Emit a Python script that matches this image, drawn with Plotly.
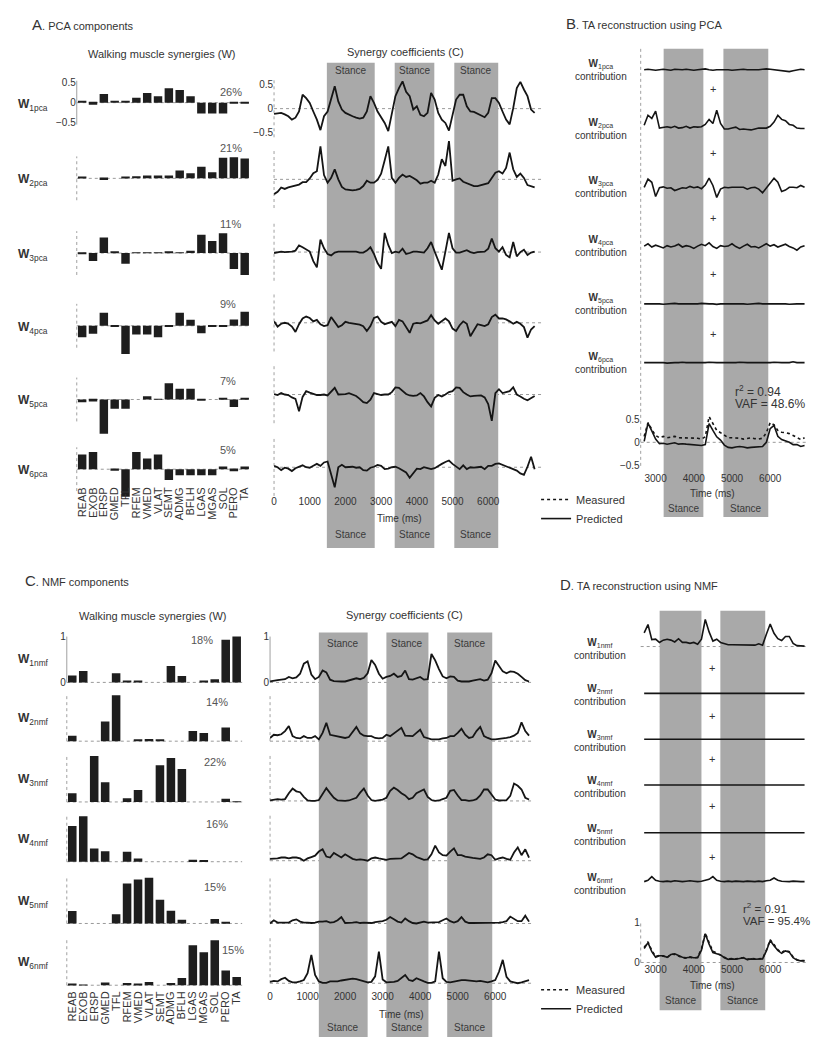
import plotly.graph_objects as go

# ---------------- data ----------------
MUSCLES = ["REAB", "EXOB", "ERSP", "GMED", "TFL", "RFEM", "VMED", "VLAT",
           "SEMT", "ADMG", "BFLH", "LGAS", "MGAS", "SOL", "PERO", "TA"]

PCA_W1 = [0.05, -0.05, 0.22, 0.04, 0.03, 0.12, 0.24, 0.16, 0.36, 0.32, 0.16, -0.27, -0.27, -0.27, -0.03, -0.03]
PCA_W2 = [0.04, 0.0, -0.04, 0.0, 0.03, 0.05, 0.07, 0.07, 0.07, 0.2, 0.13, 0.29, 0.15, 0.52, 0.53, 0.5]
PCA_W3 = [-0.03, -0.2, 0.39, 0.04, -0.27, 0.01, 0.01, 0.01, 0.04, 0.01, 0.06, 0.46, 0.3, 0.5, -0.4, -0.55]
PCA_W4 = [-0.29, -0.2, 0.33, -0.03, -0.71, -0.22, -0.22, -0.29, -0.03, 0.33, 0.15, -0.19, -0.02, -0.02, 0.16, 0.35]
PCA_W5 = [-0.07, -0.05, -0.86, -0.23, -0.23, 0.0, 0.08, 0.02, 0.41, 0.27, 0.27, -0.03, 0.0, 0.03, -0.19, 0.03]
PCA_W6 = [0.37, 0.43, 0.0, -0.04, -0.69, 0.43, 0.27, 0.37, -0.27, -0.15, -0.15, -0.15, -0.15, 0.07, -0.05, 0.07]
PCA_PCT = ["26%", "21%", "11%", "9%", "7%", "5%"]

NMF_W1 = [0.15, 0.25, 0.0, 0.0, 0.2, 0.03, 0.02, 0.0, 0.0, 0.36, 0.14, 0.0, 0.03, 0.07, 0.93, 1.0]
NMF_W2 = [0.12, 0.0, 0.0, 0.43, 1.0, 0.0, 0.02, 0.05, 0.02, 0.0, 0.0, 0.22, 0.18, 0.0, 0.3, 0.0]
NMF_W3 = [0.19, 0.0, 1.0, 0.43, 0.0, 0.08, 0.26, 0.0, 0.8, 0.96, 0.72, 0.0, 0.0, 0.0, 0.07, 0.01]
NMF_W4 = [0.78, 0.99, 0.29, 0.23, 0.0, 0.22, 0.07, 0.0, 0.0, 0.0, 0.0, 0.04, 0.02, 0.0, 0.0, 0.0]
NMF_W5 = [0.27, 0.0, 0.0, 0.0, 0.2, 0.87, 0.96, 1.0, 0.52, 0.28, 0.08, 0.0, 0.0, 0.1, 0.02, 0.0]
NMF_W6 = [0.03, 0.01, 0.0, 0.06, 0.0, 0.05, 0.02, 0.07, 0.0, 0.05, 0.16, 0.87, 0.72, 0.98, 0.32, 0.18]
NMF_PCT = ["18%", "14%", "22%", "16%", "15%", "15%"]

# time stamps (ms) of the sampled coefficient curves
T_A = list(range(0, 7400, 100))      # panel A
T_C = list(range(0, 7000, 100))      # panel C
T_R = list(range(2700, 7000, 100))   # panels B and D
T_FLAT = [2700, 3800, 4800, 5900, 6900]

PCA_C1 = [-0.11, -0.10, -0.09, -0.12, -0.16, -0.23, -0.19, -0.06, 0.29, 0.22,
          0.12, -0.06, -0.23, -0.45, -0.16, -0.06, 0.22, 0.47, 0.15, -0.02,
          -0.09, -0.13, -0.16, -0.19, -0.21, -0.19, -0.06, 0.26, 0.12, -0.06,
          -0.18, -0.30, -0.47, -0.10, 0.26, 0.43, 0.57, 0.35, 0.26, -0.02,
          0.05, -0.13, -0.16, -0.09, 0.33, 0.19, -0.09, -0.23, -0.30, -0.46,
          -0.16, 0.19, 0.29, 0.29, 0.05, -0.06, -0.07, -0.11, -0.14, -0.18,
          -0.09, 0.22, 0.22, 0.12, -0.06, -0.23, -0.33, 0.01, 0.43, 0.56,
          0.40, 0.26, -0.02, -0.09]
PCA_C2 = [-0.31, -0.26, -0.17, -0.20, -0.17, -0.15, -0.14, -0.11, -0.06, -0.06,
          0.02, 0.13, 0.17, 0.69, 0.09, -0.07, 0.03, 0.21, 0.00, -0.16,
          -0.21, -0.22, -0.23, -0.22, -0.20, -0.14, -0.03, -0.07, -0.07, -0.01,
          0.12, 0.40, 0.69, 0.03, -0.07, 0.03, 0.10, 0.05, 0.07, 0.03,
          -0.02, -0.09, -0.07, -0.07, -0.03, -0.07, 0.10, 0.42, 0.28, 0.80,
          -0.03, 0.00, 0.02, -0.05, -0.08, -0.12, -0.14, -0.14, -0.12, -0.10,
          -0.08, 0.03, 0.14, 0.17, 0.12, 0.24, 0.56, 0.21, 0.05, 0.12,
          0.03, -0.12, -0.15, -0.17]
PCA_C3 = [-0.02, 0.00, 0.01, 0.00, 0.00, 0.01, 0.03, 0.14, 0.10, 0.06,
          0.01, -0.19, -0.32, 0.26, 0.08, -0.04, -0.07, -0.01, 0.01, 0.01,
          0.01, 0.00, 0.00, 0.01, -0.01, -0.01, 0.03, 0.10, -0.04, -0.23,
          -0.35, 0.40, 0.15, -0.02, 0.01, -0.01, 0.07, -0.04, -0.02, 0.01,
          0.01, 0.00, -0.01, 0.08, 0.21, 0.01, -0.19, -0.37, 0.01, 0.40,
          0.08, -0.01, -0.01, 0.01, 0.04, 0.00, -0.02, 0.00, 0.01, 0.01,
          0.07, 0.28, 0.08, 0.01, 0.10, -0.06, -0.11, 0.21, -0.09, 0.00,
          0.05, -0.06, -0.01, 0.01]
PCA_C4 = [0.03, -0.08, -0.02, 0.00, -0.02, -0.08, -0.19, -0.03, 0.09, 0.13,
          0.10, 0.03, 0.06, -0.03, -0.07, -0.05, 0.12, 0.02, -0.09, -0.05,
          0.02, 0.00, -0.01, -0.02, -0.04, -0.07, -0.17, -0.07, 0.10, 0.13,
          0.02, -0.03, 0.00, 0.02, -0.07, 0.06, 0.03, -0.10, -0.21, -0.02,
          0.00, -0.01, 0.02, 0.05, 0.16, 0.05, -0.02, 0.03, 0.09, 0.03,
          -0.12, -0.17, -0.05, 0.03, -0.02, -0.28, -0.14, -0.03, -0.05, -0.07,
          -0.03, 0.12, 0.17, 0.09, 0.09, 0.07, 0.03, -0.02, 0.02, -0.02,
          -0.09, -0.31, -0.14, -0.07]
PCA_C5 = [0.01, -0.01, 0.03, 0.00, -0.01, -0.06, -0.09, -0.35, -0.05, 0.07,
          0.04, 0.01, -0.01, -0.01, 0.00, -0.02, 0.05, 0.14, 0.00, 0.00,
          0.01, 0.03, 0.00, -0.03, -0.09, -0.16, -0.18, -0.11, 0.03, 0.01,
          -0.01, 0.00, 0.00, 0.05, 0.15, 0.14, 0.07, 0.01, -0.02, -0.03,
          -0.02, 0.03, -0.04, -0.16, -0.25, -0.07, -0.01, -0.04, 0.00, 0.05,
          0.07, 0.15, 0.14, 0.05, 0.00, -0.04, -0.03, -0.02, -0.02, -0.06,
          -0.20, -0.55, 0.03, 0.11, 0.03, 0.05, 0.07, 0.15, 0.00, -0.04,
          -0.09, -0.12, -0.07, -0.03]
PCA_C6 = [0.03, 0.00, -0.06, -0.01, -0.03, -0.08, -0.02, 0.01, 0.04, 0.00,
          -0.01, 0.03, 0.07, 0.03, 0.10, 0.12, -0.15, -0.42, 0.00, 0.05,
          0.00, 0.01, 0.01, -0.01, 0.00, -0.06, -0.07, -0.01, 0.01, 0.05,
          0.03, -0.04, -0.03, 0.00, 0.01, -0.02, -0.06, -0.11, -0.22, -0.12,
          -0.03, -0.04, 0.00, -0.02, -0.04, -0.02, 0.03, 0.07, 0.11, 0.14,
          0.07, 0.01, -0.04, 0.04, -0.04, 0.00, -0.01, 0.00, 0.01, -0.04,
          0.03, 0.03, 0.07, 0.08, 0.05, 0.01, -0.01, -0.04, -0.07, -0.13,
          -0.16, 0.01, 0.22, -0.04]

NMF_C1 = [0.02, 0.04, 0.05, 0.06, 0.07, 0.12, 0.09, 0.11, 0.19, 0.41,
          0.46, 0.17, 0.07, 0.12, 0.26, 0.22, 0.06, 0.03, 0.02, 0.02,
          0.02, 0.04, 0.07, 0.09, 0.07, 0.10, 0.20, 0.49, 0.38, 0.19,
          0.08, 0.12, 0.14, 0.19, 0.12, 0.14, 0.26, 0.07, 0.06, 0.09,
          0.12, 0.06, 0.07, 0.62, 0.48, 0.29, 0.13, 0.09, 0.13, 0.12,
          0.04, 0.02, 0.02, 0.02, 0.04, 0.06, 0.07, 0.04, 0.06, 0.20,
          0.48, 0.36, 0.24, 0.20, 0.24, 0.23, 0.19, 0.12, 0.05, 0.02]
NMF_C2 = [0.07, 0.14, 0.13, 0.15, 0.22, 0.33, 0.11, 0.07, 0.06, 0.11,
          0.07, 0.07, 0.11, 0.04, 0.18, 0.40, 0.14, 0.12, 0.11, 0.09,
          0.07, 0.09, 0.20, 0.31, 0.17, 0.12, 0.11, 0.11, 0.07, 0.06,
          0.07, 0.14, 0.11, 0.17, 0.25, 0.29, 0.12, 0.11, 0.11, 0.18,
          0.25, 0.09, 0.06, 0.04, 0.04, 0.04, 0.06, 0.07, 0.11, 0.11,
          0.18, 0.27, 0.14, 0.07, 0.09, 0.22, 0.31, 0.11, 0.07, 0.04,
          0.04, 0.05, 0.05, 0.07, 0.09, 0.12, 0.18, 0.41, 0.22, 0.12]
NMF_C3 = [0.01, 0.02, 0.04, 0.03, 0.04, 0.17, 0.27, 0.21, 0.19, 0.09,
          0.01, 0.00, 0.00, 0.02, 0.14, 0.28, 0.17, 0.07, 0.01, 0.00,
          0.00, 0.01, 0.04, 0.07, 0.18, 0.27, 0.12, 0.02, 0.00, 0.01,
          0.03, 0.07, 0.22, 0.29, 0.24, 0.17, 0.12, 0.04, 0.07, 0.17,
          0.21, 0.25, 0.09, 0.02, 0.00, 0.01, 0.04, 0.07, 0.22, 0.24,
          0.12, 0.02, 0.02, 0.00, 0.01, 0.04, 0.12, 0.25, 0.25, 0.14,
          0.03, 0.01, 0.01, 0.02, 0.11, 0.38, 0.33, 0.25, 0.07, 0.03]
NMF_C4 = [0.04, 0.04, 0.05, 0.07, 0.07, 0.05, 0.07, 0.07, 0.05, 0.00,
          0.05, 0.08, 0.11, 0.20, 0.25, 0.09, 0.07, 0.17, 0.11, 0.07,
          0.14, 0.09, 0.04, 0.02, 0.03, 0.02, 0.00, 0.05, 0.07, 0.05,
          0.03, 0.02, 0.04, 0.04, 0.05, 0.05, 0.11, 0.17, 0.14, 0.08,
          0.05, 0.02, 0.03, 0.14, 0.33, 0.18, 0.12, 0.11, 0.20, 0.27,
          0.12, 0.12, 0.09, 0.07, 0.06, 0.05, 0.04, 0.07, 0.14, 0.12,
          0.02, 0.05, 0.07, 0.04, 0.02, 0.18, 0.29, 0.12, 0.25, 0.07]
NMF_C5 = [0.00, 0.07, 0.02, 0.02, 0.03, 0.02, 0.07, 0.09, 0.04, 0.02,
          0.02, 0.01, 0.02, 0.04, 0.04, 0.05, 0.02, 0.03, 0.07, 0.14,
          0.01, 0.01, 0.02, 0.03, 0.01, 0.02, 0.01, 0.01, 0.03, 0.04,
          0.05, 0.08, 0.14, 0.09, 0.04, 0.02, 0.11, 0.05, 0.01, 0.00,
          0.02, 0.04, 0.02, 0.02, 0.02, 0.03, 0.07, 0.11, 0.05, 0.02,
          0.05, 0.14, 0.04, 0.01, 0.01, 0.01, 0.01, 0.01, 0.02, 0.02,
          0.02, 0.02, 0.03, 0.05, 0.15, 0.09, 0.05, 0.05, 0.17, 0.04]
NMF_C6 = [0.03, 0.05, 0.04, 0.09, 0.12, 0.05, 0.02, 0.02, 0.04, 0.07,
          0.22, 0.62, 0.18, 0.04, 0.01, 0.01, 0.04, 0.04, 0.04, 0.06,
          0.07, 0.09, 0.10, 0.09, 0.07, 0.04, 0.02, 0.03, 0.15, 0.69,
          0.08, 0.02, 0.02, 0.03, 0.05, 0.11, 0.18, 0.07, 0.05, 0.11,
          0.07, 0.04, 0.01, 0.01, 0.04, 0.69, 0.11, 0.03, 0.02, 0.04,
          0.05, 0.07, 0.07, 0.06, 0.05, 0.04, 0.05, 0.04, 0.02, 0.04,
          0.07, 0.25, 0.51, 0.14, 0.04, 0.02, 0.00, 0.02, 0.04, 0.07]

# B: TA reconstruction using PCA (contributions, measured, predicted)
B_C1 = [0.0, 0.01, 0.0, -0.01, 0.0, 0.01, 0.0, -0.01, 0.01, 0.0,
        0.0, 0.01, 0.0, -0.01, 0.0, 0.01, 0.02, 0.0, -0.01, 0.0,
        0.0, 0.01, 0.0, -0.01, 0.0, 0.0, 0.01, 0.0, 0.0, -0.01,
        0.0, 0.01, 0.02, 0.01, 0.0, 0.0, -0.01, -0.03, -0.04, -0.02,
        0.0, 0.01, 0.0]
B_C2 = [0.07, 0.29, 0.22, 0.38, 0.01, 0.02, 0.04, 0.02, 0.05, 0.01,
        0.02, 0.05, 0.01, 0.04, 0.03, 0.04, 0.09, 0.20, 0.11, 0.40,
        0.11, -0.01, -0.01, 0.01, 0.03, -0.02, -0.01, -0.02, -0.03, -0.01,
        0.01, 0.01, 0.01, 0.05, 0.14, 0.29, 0.20, 0.17, 0.09, 0.07,
        0.01, 0.0, 0.0]
B_C3 = [0.0, 0.18, 0.11, -0.20, -0.01, 0.01, -0.02, -0.01, -0.07, -0.04,
        -0.01, -0.02, 0.02, -0.01, 0.01, -0.03, 0.05, 0.20, 0.04, -0.22,
        -0.04, 0.0, -0.01, 0.0, 0.0, 0.01, 0.0, -0.04, -0.01, 0.0,
        -0.04, -0.12, -0.01, 0.10, 0.20, 0.11, -0.09, -0.06, 0.0, 0.0,
        -0.01, 0.04, 0.0]
B_C4 = [0.0, 0.05, -0.02, 0.02, -0.01, -0.04, 0.01, -0.02, 0.0, 0.04,
        -0.02, 0.01, -0.01, -0.05, 0.0, 0.04, 0.01, 0.07, -0.01, -0.05,
        0.01, -0.01, 0.0, 0.05, -0.01, -0.05, 0.0, 0.04, -0.02, -0.01,
        -0.04, 0.01, 0.05, 0.0, 0.03, -0.02, 0.01, 0.04, -0.01, -0.04,
        -0.09, -0.02, 0.01]
B_C5 = [0.0, 0.0, 0.01, 0.0, 0.0, -0.01, 0.0, 0.0, 0.01, 0.0,
        0.0, 0.0, -0.01, 0.0, 0.0, 0.01, 0.0, 0.0, 0.0, -0.01,
        0.0, 0.0, 0.01, 0.0, 0.0, 0.0, 0.0, -0.01, 0.0, 0.0,
        0.01, 0.0, 0.0, 0.0, 0.0, 0.01, 0.0, 0.0, -0.01, 0.0,
        0.0, 0.0, 0.0]
B_C6 = [0.0, 0.0, 0.0, 0.01, 0.0, 0.0, -0.01, 0.0, 0.0, 0.0,
        0.01, 0.0, 0.0, 0.0, -0.01, 0.0, 0.0, 0.01, 0.0, 0.0,
        0.0, 0.0, -0.01, 0.0, 0.0, 0.01, 0.0, 0.0, 0.0, 0.0,
        -0.01, 0.0, 0.0, 0.0, 0.01, 0.0, 0.0, 0.0, 0.0, 0.02,
        0.0, 0.0, 0.0]
B_MEAS = [0.13, 0.43, 0.28, 0.15, 0.10, 0.13, 0.10, 0.12, 0.13, 0.10,
          0.10, 0.10, 0.10, 0.10, 0.09, 0.07, 0.12, 0.56, 0.41, 0.26,
          0.21, 0.15, 0.10, 0.10, 0.10, 0.09, 0.07, 0.08, 0.10, 0.08,
          0.07, 0.09, 0.21, 0.43, 0.38, 0.26, 0.22, 0.21, 0.19, 0.15,
          0.10, 0.06, 0.10]
B_PRED = [0.02, 0.42, 0.25, 0.07, -0.03, -0.02, -0.04, -0.03, -0.01, -0.04,
          -0.03, -0.04, -0.05, -0.05, -0.07, -0.07, -0.05, 0.41, 0.26, 0.12,
          0.05, -0.06, -0.11, -0.12, -0.10, -0.09, -0.10, -0.12, -0.11, -0.10,
          -0.09, -0.09, 0.00, 0.30, 0.37, 0.13, 0.06, 0.03, 0.00, -0.05,
          -0.05, -0.09, -0.07]

# D: TA reconstruction using NMF
D_C1 = [0.30, 0.48, 0.15, 0.16, 0.09, 0.14, 0.16, 0.14, 0.10, 0.17,
        0.09, 0.09, 0.07, 0.09, 0.05, 0.16, 0.59, 0.32, 0.12, 0.16,
        0.09, 0.07, 0.04, 0.04, 0.04, 0.03, 0.04, 0.04, 0.03, 0.03,
        0.06, 0.03, 0.27, 0.49, 0.29, 0.17, 0.13, 0.22, 0.22, 0.07,
        0.02, 0.01, 0.01]
D_C2 = [0.0, 0.0, 0.0, 0.0, 0.0]
D_C3 = [0.0, 0.0, 0.0, 0.0, 0.0]
D_C4 = [0.0, 0.0, 0.0, 0.0, 0.0]
D_C5 = [0.0, 0.0, 0.0, 0.0, 0.0]
D_C6 = [0.0, 0.03, 0.11, 0.03, 0.01, 0.0, 0.01, 0.0, 0.02, 0.01,
        0.0, 0.01, 0.02, 0.01, 0.0, 0.01, 0.03, 0.05, 0.11, 0.03,
        0.01, 0.0, 0.01, 0.0, 0.01, 0.0, 0.0, 0.01, 0.0, 0.0,
        0.01, 0.0, 0.02, 0.03, 0.08, 0.03, 0.01, 0.0, 0.0, 0.01,
        0.0, 0.0, 0.0]
D_MEAS = [0.38, 0.52, 0.30, 0.15, 0.18, 0.16, 0.12, 0.21, 0.20, 0.15,
          0.12, 0.11, 0.14, 0.11, 0.13, 0.34, 0.74, 0.50, 0.28, 0.24,
          0.18, 0.13, 0.09, 0.10, 0.09, 0.11, 0.12, 0.08, 0.10, 0.09,
          0.09, 0.10, 0.31, 0.57, 0.45, 0.32, 0.25, 0.31, 0.27, 0.14,
          0.07, 0.05, 0.05]
D_PRED = [0.35, 0.50, 0.27, 0.13, 0.17, 0.17, 0.13, 0.20, 0.22, 0.17,
          0.13, 0.12, 0.13, 0.12, 0.12, 0.31, 0.72, 0.46, 0.25, 0.22,
          0.19, 0.12, 0.08, 0.09, 0.08, 0.10, 0.12, 0.07, 0.09, 0.08,
          0.08, 0.09, 0.29, 0.55, 0.42, 0.30, 0.23, 0.29, 0.26, 0.12,
          0.06, 0.04, 0.04]

STANCE_A = [(1480, 2820), (3380, 4490), (5050, 6280)]
STANCE_C = [(1300, 2600), (3100, 4220), (4720, 5920)]
STANCE_B = [(3210, 4250), (4775, 5950)]
STANCE_D = [(3105, 4200), (4695, 5870)]
TICKS_AC = [0, 1000, 2000, 3000, 4000, 5000, 6000]
TICKS_BD = [3000, 4000, 5000, 6000]

# ---------------- layout helpers ----------------
FIG_W, FIG_H = 821, 1039
OFF = 8          # page body margin of the browser, compensated here
FONT = "Liberation Sans, Arial, Helvetica, sans-serif"
TXT = "#333333"
INK = "#151515"
BAND = "#a9a9a9"
DOT = "#9a9a9a"


def X(p):
    return (p - OFF) / FIG_W


def Y(p):
    return 1 - (p - OFF) / FIG_H


fig = go.Figure()
lay = {}
shapes = []
ann = []
_n = [0]


def axes(x0, x1, ytop, ybot, xr, yr, cat=False):
    _n[0] += 1
    s = "" if _n[0] == 1 else str(_n[0])
    xa = dict(domain=[X(x0), X(x1)], range=xr, anchor="y" + s, showgrid=False,
              zeroline=False, showline=False, ticks="", showticklabels=False,
              fixedrange=True, tickfont=dict(family=FONT, size=10, color=TXT))
    if cat:
        xa["type"] = "category"
    lay["xaxis" + s] = xa
    lay["yaxis" + s] = dict(domain=[Y(ybot), Y(ytop)], range=yr, anchor="x" + s,
                            showgrid=False, zeroline=False, showline=False, ticks="",
                            showticklabels=False, fixedrange=True,
                            tickfont=dict(family=FONT, size=10, color=TXT))
    return s


def text(x, y, t, size=10, xanchor="center", color=TXT, align="center", xref="paper"):
    ann.append(dict(x=X(x) if xref == "paper" else x, y=Y(y), xref=xref, yref="paper",
                    text=t, showarrow=False, xanchor=xanchor, yanchor="middle", align=align,
                    font=dict(family=FONT, size=size, color=color)))


def hline0(s, color=DOT):
    shapes.append(dict(type="line", xref="x" + s + " domain", x0=0, x1=1, yref="y" + s,
                       y0=0, y1=0, line=dict(color=color, width=1, dash="dot"), layer="below"))


def vaxis(s, y0, y1, dash="dot"):
    shapes.append(dict(type="line", xref="x" + s + " domain", x0=0, x1=0, yref="y" + s,
                       y0=y0, y1=y1, line=dict(color="#a0a0a0", width=1, dash=dash), layer="below"))


def curve(s, t, v, width=1.8, dash="solid", name=None, legend=None):
    fig.add_trace(go.Scatter(x=t, y=v, xaxis="x" + s, yaxis="y" + s, mode="lines",
                             line=dict(color=INK, width=width, dash=dash),
                             showlegend=name is not None, name=name,
                             legend=legend if legend else "legend", hoverinfo="skip"))


def bars(s, v):
    fig.add_trace(go.Bar(x=MUSCLES, y=v, xaxis="x" + s, yaxis="y" + s, width=0.78,
                         marker=dict(color="#1e1e1e", line=dict(width=0)),
                         showlegend=False, hoverinfo="skip"))


tickfont = dict(family=FONT, size=10, color=TXT)
musclefont = dict(family=FONT, size=11, color=TXT)


def bands(s, spans, ytop, ybot, lab_top=None, lab_bot=None):
    for a, e in spans:
        shapes.append(dict(type="rect", xref="x" + s, yref="paper", x0=a, x1=e,
                           y0=Y(ybot), y1=Y(ytop), fillcolor=BAND, line=dict(width=0),
                           layer="below"))
        for ly in (lab_top, lab_bot):
            if ly is not None:
                text((a + e) / 2, ly, "Stance", size=10, color="#3a3a3a", xref="x" + s)


# ---------------- panel A ----------------
text(27, 23, '<span style="font-size:15px">A</span>. PCA components', size=11, xanchor="left")
text(160, 52, "Walking muscle synergies (W)", size=11)
text(404, 50, "Synergy coefficients (C)", size=11)

PCA_W = [PCA_W1, PCA_W2, PCA_W3, PCA_W4, PCA_W5, PCA_W6]
A_BAR_BASE = [101, 177, 252, 325, 399, 469]
A_PCT_Y = [90, 147, 223, 303, 380, 450]
for i, w in enumerate(PCA_W):
    b = A_BAR_BASE[i]
    s = axes(74, 248, b - 40, b + 40, [-0.5, 15.5], [-1, 1], cat=True)
    hline0(s)
    vaxis(s, -0.55, 0.55, dash="solid" if i == 0 else "dot")
    bars(s, w)
    if i == 0:
        lay["yaxis" + s].update(showticklabels=True, tickvals=[-0.5, 0, 0.5],
                                ticktext=["\u22120.5", "0", "0.5"], tickfont=tickfont)
    if i == 5:
        lay["xaxis" + s].update(anchor="free", position=Y(484), showticklabels=True,
                                tickmode="array", tickvals=MUSCLES, ticktext=MUSCLES,
                                tickangle=-90, tickfont=musclefont)
    text(13, b + 2, "<b>W</b><sub>%dpca</sub>" % (i + 1), size=12, xanchor="left")
    text(216, A_PCT_Y[i], PCA_PCT[i], size=11, xanchor="left", color="#555555")

PCA_C = [PCA_C1, PCA_C2, PCA_C3, PCA_C4, PCA_C5, PCA_C6]
A_TS_BASE = [107, 178, 251, 322, 394, 467]
sA = None
for i, c in enumerate(PCA_C):
    b = A_TS_BASE[i]
    s = axes(272, 540, b - 42, b + 42, [0, 7480], [-0.875, 0.875])
    if sA is None:
        sA = s
    hline0(s)
    vaxis(s, -0.6, 0.6)
    curve(s, T_A, c)
    if i == 0:
        lay["yaxis" + s].update(showticklabels=True, tickvals=[-0.5, 0, 0.5],
                                ticktext=["\u22120.5", "0", "0.5"], tickfont=tickfont)
    if i == 5:
        lay["xaxis" + s].update(anchor="free", position=Y(494), showticklabels=True,
                                tickvals=TICKS_AC, tickfont=tickfont)
bands(sA, STANCE_A, 61, 548, lab_top=69, lab_bot=535)
text(398, 518, "Time (ms)", size=10)

# ---------------- panel C ----------------
text(20, 581, '<span style="font-size:15px">C</span>. NMF components', size=11, xanchor="left")
text(151, 616, "Walking muscle synergies (W)", size=11)
text(403, 615, "Synergy coefficients (C)", size=11)

NMF_W = [NMF_W1, NMF_W2, NMF_W3, NMF_W4, NMF_W5, NMF_W6]
C_BAR_BASE = [683, 742, 803, 863, 925, 987]
C_PCT_Y = [640, 703, 763, 825, 888, 952]
C_PCT_X = [187, 202, 200, 202, 200, 218]
for i, w in enumerate(NMF_W):
    b = C_BAR_BASE[i]
    s = axes(64, 240, b - 50, b + 4, [-0.5, 15.5], [-4 / 46, 50 / 46], cat=True)
    hline0(s)
    vaxis(s, 0, 1.0, dash="solid" if i == 0 else "dot")
    bars(s, w)
    if i == 0:
        lay["yaxis" + s].update(showticklabels=True, tickvals=[0, 1], ticktext=["0", "1"],
                                tickfont=tickfont)
    if i == 5:
        lay["xaxis" + s].update(anchor="free", position=Y(990), showticklabels=True,
                                tickmode="array", tickvals=MUSCLES, ticktext=MUSCLES,
                                tickangle=-90, tickfont=musclefont)
    text(13, b - 22, "<b>W</b><sub>%dnmf</sub>" % (i + 1), size=12, xanchor="left")
    text(C_PCT_X[i], C_PCT_Y[i], NMF_PCT[i], size=11, xanchor="left", color="#555555")

NMF_C = [NMF_C1, NMF_C2, NMF_C3, NMF_C4, NMF_C5, NMF_C6]
C_TS_BASE = [683, 742, 802, 862, 925, 985]
sC = None
for i, c in enumerate(NMF_C):
    b = C_TS_BASE[i]
    s = axes(268, 532, b - 50, b + 12, [0, 7008], [-12 / 46, 50 / 46])
    if sC is None:
        sC = s
    hline0(s)
    vaxis(s, 0, 1.0, dash="solid" if i == 0 else "dot")
    curve(s, T_C, c)
    if i == 0:
        lay["yaxis" + s].update(showticklabels=True, tickvals=[0, 1], ticktext=["0", "1"],
                                tickfont=tickfont)
    if i == 5:
        lay["xaxis" + s].update(anchor="free", position=Y(991), showticklabels=True,
                                tickvals=TICKS_AC, tickfont=tickfont)
bands(sC, STANCE_C, 633, 1039, lab_top=644, lab_bot=1029)
text(400, 1016, "Time (ms)", size=10)

# ---------------- panel B ----------------
text(563, 22, '<span style="font-size:15px">B</span>. TA reconstruction using PCA', size=11,
     xanchor="left")
B_C = [B_C1, B_C2, B_C3, B_C4, B_C5, B_C6]
B_BASE = [68, 127, 186, 245, 303, 362]
B_PLUS = [87, 152, 217, 273, 333]
sB = None
for i, c in enumerate(B_C):
    b = B_BASE[i]
    s = axes(640, 808, b - 25, b + 25, [2609, 6992], [-25 / 46, 25 / 46])
    if sB is None:
        sB = s
    curve(s, T_R, c, width=1.6)
    text(628, b, "<b>W</b><sub>%dpca</sub><br>contribution" % (i + 1), size=10,
         xanchor="right", align="center")
for py in B_PLUS:
    text(713, py, "+", size=11)
s = axes(640, 808, 412, 472, [2609, 6992], [-30 / 46, 30 / 46])
hline0(s)
lay["yaxis" + s].update(showticklabels=True, tickvals=[-0.5, 0, 0.5],
                        ticktext=["\u22120.5", "0", "0.5"], tickfont=tickfont)
lay["xaxis" + s].update(anchor="free", position=Y(471), showticklabels=True,
                        tickvals=TICKS_BD, tickfont=tickfont)
curve(s, T_R, B_MEAS, width=1.6, dash="dot", name="Measured", legend="legend")
curve(s, T_R, B_PRED, width=1.6, name="Predicted", legend="legend")
shapes.append(dict(type="line", xref="paper", yref="paper", x0=X(640), x1=X(640),
                   y0=Y(47), y1=Y(468), line=dict(color="#a0a0a0", width=1, dash="dot"),
                   layer="below"))
bands(sB, STANCE_B, 47, 517, lab_bot=508)
text(712, 493, "Time (ms)", size=10)
text(733, 390, "r<sup>2</sup> = 0.94", size=12, xanchor="left")
text(733, 404, "VAF = 48.6%", size=12, xanchor="left")

# ---------------- panel D ----------------
text(557, 585, '<span style="font-size:15px">D</span>. TA reconstruction using NMF', size=11,
     xanchor="left")
D_C = [D_C1, D_C2, D_C3, D_C4, D_C5, D_C6]
D_T = [T_R, T_FLAT, T_FLAT, T_FLAT, T_FLAT, T_R]
D_BASE = [647, 694, 740, 786, 834, 883]
D_PLUS = [669, 717, 760, 807, 858]
sD = None
for i, c in enumerate(D_C):
    b = D_BASE[i]
    s = axes(640, 808, b - 30, b + 8, [2609, 6992], [-8 / 46, 30 / 46])
    if sD is None:
        sD = s
    if i == 0:
        hline0(s)
    curve(s, D_T[i], c, width=1.6)
    text(627, b + 2, "<b>W</b><sub>%dnmf</sub><br>contribution" % (i + 1), size=10,
         xanchor="right", align="center")
for py in D_PLUS:
    text(712, py, "+", size=11)
s = axes(640, 808, 912, 972, [2609, 6992], [-9 / 46, 60 / 46])
hline0(s)
vaxis(s, 0, 1.0)
lay["yaxis" + s].update(showticklabels=True, tickvals=[0, 1], ticktext=["0", "1"],
                        tickfont=tickfont)
lay["xaxis" + s].update(anchor="free", position=Y(964), showticklabels=True,
                        tickvals=TICKS_BD, tickfont=tickfont)
curve(s, T_R, D_MEAS, width=1.6, dash="dot", name="Measured", legend="legend2")
curve(s, T_R, D_PRED, width=1.6, name="Predicted", legend="legend2")
bands(sD, STANCE_D, 611, 1012, lab_bot=1002)
text(712, 987, "Time (ms)", size=10)
text(741, 909, "r<sup>2</sup> = 0.91", size=11.5, xanchor="left")
text(741, 923, "VAF = 95.4%", size=11.5, xanchor="left")

# ---------------- legends & figure ----------------
leg = dict(xanchor="left", yanchor="middle", bgcolor="rgba(0,0,0,0)", borderwidth=0,
           font=dict(family=FONT, size=11, color=TXT), itemwidth=30, tracegroupgap=0,
           traceorder="normal", itemclick=False, itemdoubleclick=False)
lay["legend"] = dict(leg, x=X(535), y=Y(509))
lay["legend2"] = dict(leg, x=X(535), y=Y(1001))

fig.update_layout(**lay)
fig.update_layout(width=FIG_W, height=FIG_H, autosize=False,
                  margin=dict(l=0, r=0, t=0, b=0, pad=0),
                  paper_bgcolor="white", plot_bgcolor="rgba(0,0,0,0)",
                  shapes=shapes, annotations=ann, hovermode=False, bargap=0.2,
                  font=dict(family=FONT, size=10, color=TXT), showlegend=True)
fig.write_html("out.html")
